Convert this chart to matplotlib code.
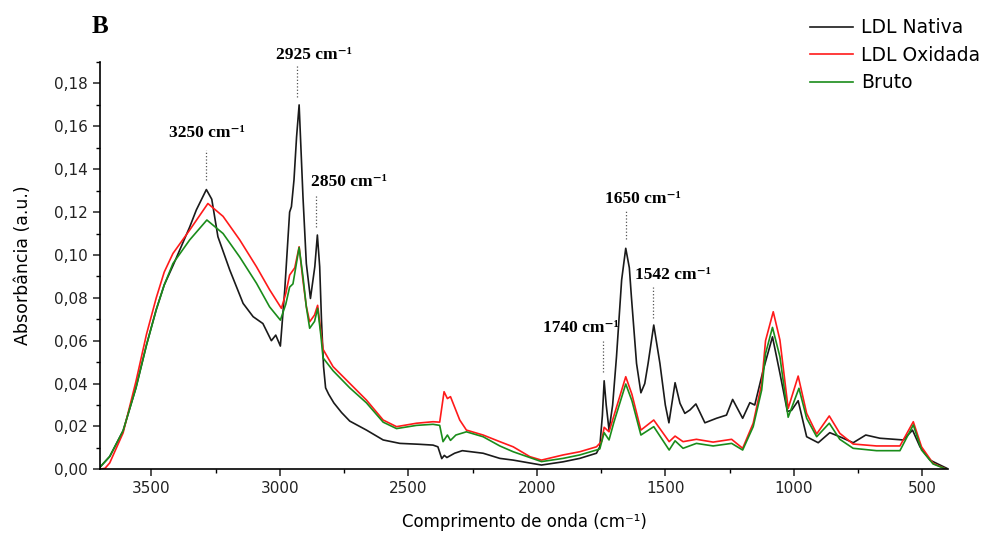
import matplotlib
matplotlib.use("Agg")
import matplotlib.pyplot as plt
from matplotlib.ticker import MultipleLocator, FuncFormatter

# LDL Nativa (preto)
wn_nativa = [3700, 3662, 3610, 3560, 3519, 3481, 3450, 3416, 3351, 3325, 3286, 3265, 3241, 3195,
             3143, 3104, 3066, 3033, 3016, 2998, 2981, 2962, 2955, 2945, 2935, 2925, 2910, 2897,
             2881, 2864, 2854, 2845, 2838, 2830, 2822, 2810, 2790, 2760, 2728, 2663, 2598, 2533,
             2460, 2404, 2385, 2370, 2360, 2350, 2320, 2290, 2209, 2144, 2092, 1982, 1898, 1833,
             1768, 1755, 1745, 1738, 1730, 1719, 1705, 1690, 1670, 1654, 1640, 1632, 1612, 1595,
             1580, 1567, 1545, 1521, 1500, 1486, 1462, 1443, 1424, 1404, 1381, 1346, 1301, 1262,
             1238, 1199, 1171, 1152, 1119, 1083, 1054, 1025, 1009, 983, 950, 905, 860, 821, 769,
             720, 665, 574, 538, 509, 470, 431, 405]
abs_nativa = [0.001, 0.006, 0.018, 0.038, 0.058, 0.0745, 0.086, 0.095, 0.113, 0.121, 0.1305,
              0.126, 0.1085, 0.093, 0.0774, 0.0712, 0.068, 0.060, 0.0626, 0.0575, 0.0836, 0.120,
              0.1225, 0.135, 0.155, 0.170, 0.127, 0.096, 0.0797, 0.0945, 0.1093, 0.0945, 0.0696,
              0.048, 0.038, 0.035, 0.031, 0.0265, 0.0225, 0.0183, 0.0137, 0.0121, 0.0117, 0.0113,
              0.0105, 0.0050, 0.0065, 0.0055, 0.0075, 0.0087, 0.0075, 0.0051, 0.0043, 0.002,
              0.0035, 0.0051, 0.0075, 0.0105, 0.025, 0.0413, 0.030, 0.0183, 0.030, 0.0525, 0.0883,
              0.1031, 0.094, 0.0805, 0.0494, 0.0357, 0.040, 0.0494, 0.0673, 0.0494, 0.030, 0.0217,
              0.0404, 0.0308, 0.0261, 0.0277, 0.0305, 0.0217, 0.0238, 0.0253, 0.0326, 0.0238,
              0.0311, 0.030, 0.0463, 0.0618, 0.0448, 0.027, 0.0275, 0.032, 0.0152, 0.0124, 0.0171,
              0.0152, 0.0124, 0.016, 0.0145, 0.0137, 0.0183, 0.0105, 0.0043, 0.002, 0.0005]

# LDL Oxidada (vermelho)
wn_oxidada = [3700, 3680, 3662, 3610, 3560, 3519, 3481, 3450, 3416, 3351, 3280, 3221, 3156, 3091,
              3040, 2994, 2977, 2962, 2942, 2925, 2910, 2897, 2884, 2865, 2853, 2840, 2832, 2793,
              2728, 2663, 2598, 2546, 2468, 2404, 2378, 2361, 2348, 2336, 2300, 2274, 2209, 2144,
              2092, 2027, 1982, 1898, 1833, 1768, 1748, 1738, 1719, 1700, 1654, 1630, 1595, 1545,
              1485, 1462, 1431, 1379, 1314, 1242, 1199, 1158, 1125, 1110, 1080, 1054, 1022, 983,
              950, 911, 862, 821, 769, 678, 587, 535, 503, 458, 405]
abs_oxidada = [0.0, 0.0005, 0.003, 0.017, 0.041, 0.063, 0.080, 0.092, 0.1007, 0.1116, 0.124,
               0.118, 0.107, 0.0945, 0.0838, 0.0751, 0.082, 0.0906, 0.094, 0.1038, 0.088, 0.076,
               0.0688, 0.072, 0.0765, 0.064, 0.056, 0.0479, 0.0401, 0.0323, 0.023, 0.0199, 0.0215,
               0.0222, 0.022, 0.0362, 0.033, 0.0339, 0.023, 0.0183, 0.016, 0.0129, 0.0105, 0.0059,
               0.0043, 0.0067, 0.0082, 0.0105, 0.013, 0.0196, 0.0175, 0.025, 0.0432, 0.035, 0.0183,
               0.023, 0.0129, 0.0155, 0.0129, 0.014, 0.0127, 0.014, 0.0098, 0.0215, 0.040, 0.060,
               0.0735, 0.0603, 0.0284, 0.0435, 0.0261, 0.0165, 0.0249, 0.0168, 0.0118, 0.0109,
               0.0109, 0.0222, 0.0105, 0.0028, 0.0]

# Bruto (verde)
wn_bruto = [3700, 3662, 3610, 3560, 3519, 3481, 3450, 3416, 3351, 3284, 3221, 3156, 3091, 3040,
            2998, 2977, 2962, 2949, 2925, 2910, 2897, 2884, 2865, 2853, 2840, 2832, 2793, 2728,
            2663, 2598, 2546, 2468, 2404, 2378, 2365, 2348, 2336, 2315, 2274, 2209, 2144, 2092,
            1982, 1898, 1833, 1768, 1755, 1738, 1719, 1700, 1654, 1630, 1595, 1545, 1485, 1462,
            1431, 1379, 1314, 1242, 1199, 1158, 1125, 1110, 1083, 1054, 1022, 980, 950, 911, 862,
            821, 769, 678, 587, 535, 503, 458, 405]
abs_bruto = [0.001, 0.006, 0.018, 0.038, 0.058, 0.0745, 0.086, 0.096, 0.107, 0.1163, 0.110,
             0.099, 0.0868, 0.0758, 0.0696, 0.077, 0.085, 0.0865, 0.1035, 0.0898, 0.0758, 0.0658,
             0.069, 0.0751, 0.062, 0.052, 0.046, 0.038, 0.031, 0.022, 0.019, 0.0205, 0.021,
             0.0205, 0.0129, 0.016, 0.0135, 0.016, 0.0175, 0.0152, 0.0109, 0.0082, 0.0036,
             0.0051, 0.0067, 0.009, 0.0095, 0.0171, 0.0137, 0.022, 0.0398, 0.032, 0.016, 0.0199,
             0.009, 0.0133, 0.0098, 0.0121, 0.0109, 0.0121, 0.009, 0.0199, 0.037, 0.054, 0.0662,
             0.0525, 0.0243, 0.0378, 0.0238, 0.0152, 0.0215, 0.014, 0.0098, 0.0087, 0.0087,
             0.0207, 0.009, 0.0025, 0.0]

# anotacoes dos picos: texto, x/y do texto, x da linha, y inicio/fim da linha
picos = ["3250 cm⁻¹", "2925 cm⁻¹", "2850 cm⁻¹", "1650 cm⁻¹", "1542 cm⁻¹", "1740 cm⁻¹"]
picos_xt = [3285, 2868, 2731, 1587, 1470, 1829]
picos_yt = [0.157, 0.1935, 0.134, 0.126, 0.0906, 0.0659]
picos_xl = [3289, 2932, 2858, 1654, 1549, 1744]
picos_y0 = [0.135, 0.1737, 0.113, 0.1075, 0.0708, 0.0454]
picos_y1 = [0.149, 0.1886, 0.128, 0.121, 0.085, 0.0597]

fig = plt.figure(figsize=(9.84, 5.36), dpi=100)
ax = fig.add_axes([0.1016, 0.1244, 0.8618, 0.7599])

ax.plot(wn_nativa, abs_nativa, color="#1a1a1a", lw=1.2, label="LDL Nativa")
ax.plot(wn_oxidada, abs_oxidada, color="#ff1a1a", lw=1.2, label="LDL Oxidada")
ax.plot(wn_bruto, abs_bruto, color="#1a8c1a", lw=1.2, label="Bruto")

for i in range(len(picos)):
    ax.plot([picos_xl[i], picos_xl[i]], [picos_y0[i], picos_y1[i]], ls=":", color="#555555", lw=0.9)
    ax.text(picos_xt[i], picos_yt[i], picos[i], ha="center", va="center", fontsize=12.5,
            fontweight="bold", family=["Liberation Serif", "DejaVu Serif"], clip_on=False)

ax.set_xlim(3700, 400)
ax.set_ylim(0, 0.19)
ax.xaxis.set_major_locator(MultipleLocator(500))
ax.xaxis.set_minor_locator(MultipleLocator(250))
ax.yaxis.set_major_locator(MultipleLocator(0.02))
ax.yaxis.set_minor_locator(MultipleLocator(0.01))
ax.yaxis.set_major_formatter(FuncFormatter(lambda v, p: f"{v:.2f}".replace(".", ",")))

for s in ["top", "right"]:
    ax.spines[s].set_visible(False)
for s in ["left", "bottom"]:
    ax.spines[s].set_linewidth(1.2)
ax.tick_params(which="major", direction="out", length=5, width=1.1, labelsize=11, colors="#222222")
ax.tick_params(which="minor", direction="out", length=3, width=1.0)

ax.set_xlabel("Comprimento de onda (cm⁻¹)", fontsize=12, labelpad=12)
ax.set_ylabel("Absorbância (a.u.)", fontsize=12.5, labelpad=16)

fig.text(0.093, 0.95, "B", ha="left", va="center", fontsize=18, fontweight="bold",
         family="Liberation Serif")

fig.legend(loc="upper right", bbox_to_anchor=(1.013, 0.997), frameon=False, fontsize=13.5,
           handlelength=2.3, labelspacing=0.45, handletextpad=0.4)

plt.savefig("out.png", dpi=100)
